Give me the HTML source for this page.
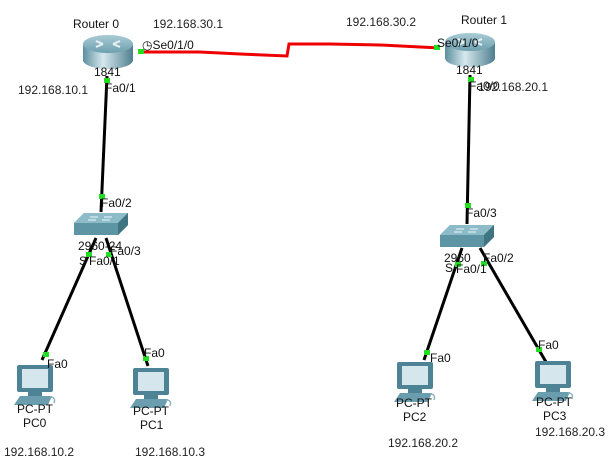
<!DOCTYPE html>
<html><head><meta charset="utf-8"><style>
html,body{margin:0;padding:0;background:#fff;}
svg{display:block;}
text{font-family:"Liberation Sans",sans-serif;font-size:12px;fill:#111;}
.ip{fill:#222;}
</style></head><body>
<svg width="615" height="464" viewBox="0 0 615 464" xmlns="http://www.w3.org/2000/svg">
<defs>
<linearGradient id="rg" x1="0" x2="1" y1="0" y2="0">
<stop offset="0" stop-color="#5c8f9e"/><stop offset="0.4" stop-color="#d6e8ee"/><stop offset="1" stop-color="#4f7f8f"/>
</linearGradient>
<linearGradient id="rt" x1="0" x2="0" y1="0" y2="1">
<stop offset="0" stop-color="#a9ccd6"/><stop offset="1" stop-color="#6e9fae"/>
</linearGradient>
<g id="router">
<path d="M-25,-8 L-25,8 A25,9 0 0 0 25,8 L25,-8 Z" fill="url(#rg)"/>
<ellipse cx="0" cy="-8" rx="25" ry="9" fill="url(#rt)"/>
<path d="M-12,-11 l7,3 M12,-11 l-7,3 M-12,-5 l7,-3 M12,-5 l-7,-3" stroke="#e8f3f6" stroke-width="2"/>
</g>
<g id="switch">
<path d="M0,10 L10,0 L54,0 L54,12 L44,22 L0,22 Z" fill="#5d95a5"/>
<path d="M0,10 L10,0 L54,0 L44,10 Z" fill="#8dbbc8"/>
<path d="M44,10 L54,0 L54,12 L44,22 Z" fill="#3f7483"/>
<path d="M16,4 h8 M30,4 h8 M14,7 h8 M28,7 h8" stroke="#d8ecf1" stroke-width="1.2"/>
</g>
<g id="pc">
<rect x="3" y="0" width="36" height="27" rx="2" fill="#4d8394"/>
<rect x="8" y="4" width="26" height="19" fill="#d5e6ec"/>
<rect x="14" y="27" width="14" height="4" fill="#4d8394"/>
<path d="M0,40 L6,31 L38,31 L34,40 Z" fill="#6a9eae"/>
<path d="M36,32 q6,0 4,6" stroke="#8db6c2" stroke-width="1.5" fill="none"/>
</g>
</defs>

<!-- links -->
<polyline points="140,52 200,52 240,54 287,56 289,44 330,44 380,45 440,48" fill="none" stroke="#e00" stroke-width="3"/>
<line x1="107" y1="76" x2="101" y2="212" stroke="#000" stroke-width="3"/>
<line x1="470" y1="75" x2="467" y2="224" stroke="#000" stroke-width="3"/>
<line x1="96" y1="238" x2="42" y2="360" stroke="#000" stroke-width="3"/>
<line x1="106" y1="238" x2="148" y2="366" stroke="#000" stroke-width="3"/>
<line x1="462" y1="248" x2="424" y2="360" stroke="#000" stroke-width="3"/>
<line x1="480" y1="248" x2="546" y2="362" stroke="#000" stroke-width="3"/>

<!-- devices -->
<use href="#router" x="108" y="52"/>
<use href="#router" x="470" y="50"/>
<use href="#switch" x="74" y="213"/>
<use href="#switch" x="440" y="225"/>
<use href="#pc" x="14" y="365"/>
<use href="#pc" x="130" y="368"/>
<use href="#pc" x="394" y="362"/>
<use href="#pc" x="532" y="361"/>

<!-- green port markers -->
<g fill="#22dd22">
<rect x="138" y="49" width="6" height="5"/>
<rect x="434" y="45" width="6" height="5"/>
<rect x="104" y="78" width="6" height="5"/>
<rect x="468" y="77" width="6" height="5"/>
<rect x="99" y="194" width="6" height="5"/>
<rect x="465" y="203" width="6" height="5"/>
<rect x="86" y="252" width="6" height="5"/>
<rect x="106" y="252" width="6" height="5"/>
<rect x="455" y="262" width="6" height="5"/>
<rect x="481" y="261" width="6" height="5"/>
<rect x="43" y="352" width="6" height="5"/>
<rect x="143" y="356" width="6" height="5"/>
<rect x="424" y="350" width="6" height="5"/>
<rect x="536" y="347" width="6" height="5"/>
</g>

<!-- labels -->
<text x="73" y="28">Router 0</text>
<text x="153" y="28" class="ip">192.168.30.1</text>
<text x="142" y="49">◷Se0/1/0</text>
<text x="94" y="76">1841</text>
<text x="18" y="94" class="ip">192.168.10.1</text>
<text x="105" y="92">Fa0/1</text>
<text x="101" y="207">Fa0/2</text>
<text x="78" y="250">2960-24</text>
<text x="110" y="255">Fa0/3</text>
<text x="79" y="265">S</text>
<text x="89" y="265">Fa0/1</text>

<text x="346" y="26" class="ip">192.168.30.2</text>
<text x="461" y="24">Router 1</text>
<text x="437" y="47">Se0/1/0</text>
<text x="456" y="74">1841</text>
<text x="478" y="91" class="ip">192.168.20.1</text>
<text x="469" y="90">Fa0/0</text>
<text x="466" y="217">Fa0/3</text>
<text x="444" y="262">2960</text>
<text x="483" y="262">Fa0/2</text>
<text x="445" y="272">S</text>
<text x="456" y="273">Fa0/1</text>

<text x="47" y="368">Fa0</text>
<text x="144" y="357">Fa0</text>
<text x="430" y="362">Fa0</text>
<text x="538" y="349">Fa0</text>

<text x="17" y="413">PC-PT</text>
<text x="23" y="427">PC0</text>
<text x="133" y="415">PC-PT</text>
<text x="140" y="429">PC1</text>
<text x="396" y="407">PC-PT</text>
<text x="403" y="421">PC2</text>
<text x="536" y="406">PC-PT</text>
<text x="543" y="420">PC3</text>

<text x="4" y="456" class="ip">192.168.10.2</text>
<text x="135" y="456" class="ip">192.168.10.3</text>
<text x="388" y="447" class="ip">192.168.20.2</text>
<text x="535" y="436" class="ip">192.168.20.3</text>
</svg>
</body></html>
